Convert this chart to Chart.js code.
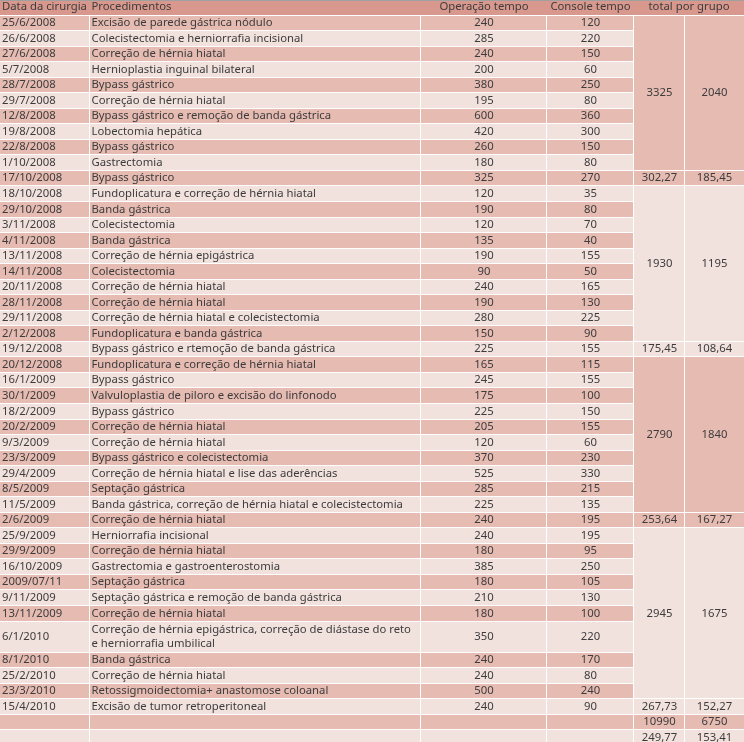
<!DOCTYPE html>
<html><head><meta charset="utf-8">
<script src="https://cdn.jsdelivr.net/npm/chart.js@4/dist/chart.umd.min.js"></script>
<style>html,body{margin:0;padding:0;background:#fff;overflow:hidden}#wrap{width:744px;height:742px}</style>
</head><body><div id="wrap"><canvas id="c" width="744" height="742"></canvas></div>
<script>
// ---------- data ----------
const headers = ['Data da cirurgia', 'Procedimentos', 'Operação tempo', 'Console tempo', 'total por grupo'];
const dates = ['25/6/2008','26/6/2008','27/6/2008','5/7/2008','28/7/2008','29/7/2008','12/8/2008','19/8/2008','22/8/2008','1/10/2008','17/10/2008',
  '18/10/2008','29/10/2008','3/11/2008','4/11/2008','13/11/2008','14/11/2008','20/11/2008','28/11/2008','29/11/2008','2/12/2008','19/12/2008',
  '20/12/2008','16/1/2009','30/1/2009','18/2/2009','20/2/2009','9/3/2009','23/3/2009','29/4/2009','8/5/2009','11/5/2009','2/6/2009',
  '25/9/2009','29/9/2009','16/10/2009','2009/07/11','9/11/2009','13/11/2009','6/1/2010','8/1/2010','25/2/2010','23/3/2010','15/4/2010'];
const procedures = ['Excisão de parede gástrica nódulo','Colecistectomia e herniorrafia incisional','Correção de hérnia hiatal','Hernioplastia inguinal bilateral',
  'Bypass gástrico','Correção de hérnia hiatal','Bypass gástrico e remoção de banda gástrica','Lobectomia hepática','Bypass gástrico','Gastrectomia','Bypass gástrico',
  'Fundoplicatura e correção de hérnia hiatal','Banda gástrica','Colecistectomia','Banda gástrica','Correção de hérnia epigástrica','Colecistectomia',
  'Correção de hérnia hiatal','Correção de hérnia hiatal','Correção de hérnia hiatal e colecistectomia','Fundoplicatura e banda gástrica','Bypass gástrico e rtemoção de banda gástrica',
  'Fundoplicatura e correção de hérnia hiatal','Bypass gástrico','Valvuloplastia de piloro e excisão do linfonodo','Bypass gástrico','Correção de hérnia hiatal',
  'Correção de hérnia hiatal','Bypass gástrico e colecistectomia','Correção de hérnia hiatal e lise das aderências','Septação gástrica',
  'Banda gástrica, correção de hérnia hiatal e colecistectomia','Correção de hérnia hiatal',
  'Herniorrafia incisional','Correção de hérnia hiatal','Gastrectomia e gastroenterostomia','Septação gástrica','Septação gástrica e remoção de banda gástrica',
  'Correção de hérnia hiatal','Correção de hérnia epigástrica, correção de diástase do reto\ne herniorrafia umbilical','Banda gástrica','Correção de hérnia hiatal',
  'Retossigmoidectomia+ anastomose coloanal','Excisão de tumor retroperitoneal'];
const operationTimes = [240,285,240,200,380,195,600,420,260,180,325, 120,190,120,135,190,90,240,190,280,150,225,
  165,245,175,225,205,120,370,525,285,225,240, 240,180,385,180,210,180,350,240,240,500,240];
const consoleTimes = [120,220,150,60,250,80,360,300,150,80,270, 35,80,70,40,155,50,165,130,225,90,155,
  115,155,100,150,155,60,230,330,215,135,195, 195,95,250,105,130,100,220,170,80,240,90];
const groupSizes = [11, 11, 11, 11];
const groupTotalOperation = [3325, 1930, 2790, 2945];
const groupTotalConsole = [2040, 1195, 1840, 1675];
const groupMeanOperation = [302.27, 175.45, 253.64, 267.73];
const groupMeanConsole = [185.45, 108.64, 167.27, 152.27];
const grandTotal = [10990, 6750];
const grandMean = [249.77, 153.41];

// ---------- layout / style ----------
const colEdges = [0, 89.5, 421, 547, 634, 685, 744];
const visibleRows = 47.75;
const C = { header: '#d9988d', dark: '#e6bbb2', light: '#f2e2de', line: '#ffffff', text: '#3c3c3c' };
const FONT = '11.3px "Noto Sans"';
const fmt = v => Number.isInteger(v) ? String(v) : v.toFixed(2).replace('.', ',');

const tablePlugin = {
  id: 'table',
  beforeDraw(chart) {
    const ctx = chart.ctx, xs = chart.scales.x, ys = chart.scales.y;
    const X = v => xs.getPixelForValue(v), Y = v => ys.getPixelForValue(v);
    ctx.save();
    ctx.fillStyle = C.line; ctx.fillRect(0, 0, chart.width, chart.height);
    const cell = (c0, c1, r0, r1, col) => {
      const x0 = Math.round(X(colEdges[c0])), x1 = Math.round(X(colEdges[c1]));
      const y0 = Math.round(Y(r0)), y1 = Math.round(Y(r1));
      ctx.fillStyle = col;
      ctx.fillRect(x0, y0, x1 - x0 - (c1 < colEdges.length - 1 ? 1 : 0), y1 - y0 - 1);
    };
    const text = (s, c0, c1, r0, r1, align) => {
      ctx.fillStyle = C.text; ctx.font = FONT; ctx.textBaseline = 'middle';
      const lines = String(s).split('\n');
      const ym = (Y(r0) + Y(r1)) / 2 - 0.5;
      lines.forEach((ln, k) => {
        const y = ym + (k - (lines.length - 1) / 2) * (lines.length > 1 ? 14.5 : 0);
        if (align === 'left') { ctx.textAlign = 'left'; ctx.fillText(ln, X(colEdges[c0]) + 2, y); }
        else { ctx.textAlign = 'center'; ctx.fillText(ln, (X(colEdges[c0]) + X(colEdges[c1])) / 2, y); }
      });
    };
    // header
    ctx.fillStyle = C.header;
    ctx.fillRect(0, 0, chart.width, Math.round(Y(1)) - 1);
    ctx.fillStyle = '#a0a0a0'; ctx.fillRect(0, 0, chart.width, 1);
    text(headers[0], 0, 1, 0, 1, 'left');
    text(headers[1], 1, 2, 0, 1, 'left');
    text(headers[2], 2, 3, 0, 1, 'center');
    text(headers[3], 3, 4, 0, 1, 'center');
    text(headers[4], 4, 6, 0, 1, 'center');
    // body rows
    const rows = [];
    let r = 1;
    dates.forEach((d, i) => {
      const h = procedures[i].split('\n').length;
      rows.push({ r0: r, r1: r + h, color: i % 2 === 0 ? C.dark : C.light });
      r += h;
    });
    rows.forEach((row, i) => {
      for (let c = 0; c < 4; c++) cell(c, c + 1, row.r0, row.r1, row.color);
      text(dates[i], 0, 1, row.r0, row.r1, 'left');
      text(procedures[i], 1, 2, row.r0, row.r1, 'left');
      text(operationTimes[i], 2, 3, row.r0, row.r1, 'center');
      text(consoleTimes[i], 3, 4, row.r0, row.r1, 'center');
    });
    // group columns
    let start = 0;
    groupSizes.forEach((n, g) => {
      const first = rows[start], lastMerged = rows[start + n - 2], meanRow = rows[start + n - 1];
      cell(4, 5, first.r0, lastMerged.r1, first.color);
      cell(5, 6, first.r0, lastMerged.r1, first.color);
      text(fmt(groupTotalOperation[g]), 4, 5, first.r0, lastMerged.r1, 'center');
      text(fmt(groupTotalConsole[g]), 5, 6, first.r0, lastMerged.r1, 'center');
      cell(4, 5, meanRow.r0, meanRow.r1, meanRow.color);
      cell(5, 6, meanRow.r0, meanRow.r1, meanRow.color);
      text(fmt(groupMeanOperation[g]), 4, 5, meanRow.r0, meanRow.r1, 'center');
      text(fmt(groupMeanConsole[g]), 5, 6, meanRow.r0, meanRow.r1, 'center');
      start += n;
    });
    // summary rows
    [[grandTotal, C.dark], [grandMean, C.light]].forEach(([vals, col]) => {
      for (let c = 0; c < 6; c++) cell(c, c + 1, r, r + 1, col);
      text(fmt(vals[0]), 4, 5, r, r + 1, 'center');
      text(fmt(vals[1]), 5, 6, r, r + 1, 'center');
      r += 1;
    });
    ctx.restore();
  }
};

new Chart(document.getElementById('c'), {
  type: 'scatter',
  data: { datasets: [] },
  options: {
    responsive: false, animation: false, devicePixelRatio: 1,
    layout: { padding: 0 },
    plugins: { legend: { display: false }, tooltip: { enabled: false } },
    scales: {
      x: { type: 'linear', min: 0, max: 744, display: false },
      y: { type: 'linear', min: 0, max: visibleRows, reverse: true, display: false }
    }
  },
  plugins: [tablePlugin]
});
</script></body></html>
